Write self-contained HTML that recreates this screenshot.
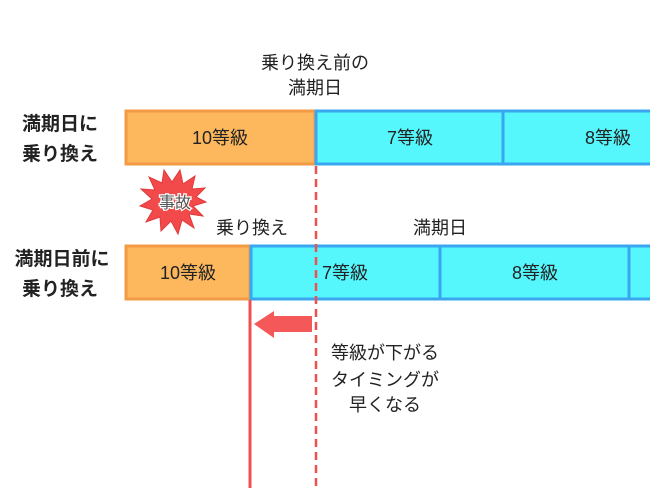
<!DOCTYPE html>
<html><head><meta charset="utf-8"><style>
html,body{margin:0;padding:0;background:#fff;}
body{width:650px;height:488px;overflow:hidden;position:relative;font-family:"Liberation Sans","Noto Sans CJK JP",sans-serif;}
</style></head><body>
<svg width="650" height="488" viewBox="0 0 650 488" xmlns="http://www.w3.org/2000/svg" style="position:absolute;left:0;top:0">
<g font-family="Liberation Sans, Noto Sans CJK JP, sans-serif">
<rect x="126" y="111" width="189" height="53" fill="#fdb75c" stroke="#f39a45" stroke-width="3"/>
<rect x="316" y="111" width="187" height="53" fill="#55f7fd" stroke="#3ba6f0" stroke-width="3"/>
<rect x="503" y="111" width="160" height="53" fill="#55f7fd" stroke="#3ba6f0" stroke-width="3"/>
<rect x="126" y="246" width="124" height="53" fill="#fdb75c" stroke="#f39a45" stroke-width="3"/>
<rect x="251" y="246" width="189" height="53" fill="#55f7fd" stroke="#3ba6f0" stroke-width="3"/>
<rect x="440" y="246" width="189" height="53" fill="#55f7fd" stroke="#3ba6f0" stroke-width="3"/>
<rect x="629" y="246" width="40" height="53" fill="#55f7fd" stroke="#3ba6f0" stroke-width="3"/>
<line x1="316" y1="166" x2="316" y2="488" stroke="#f05050" stroke-width="2.5" stroke-dasharray="8,5"/>
<line x1="250" y1="300" x2="250" y2="488" stroke="#f05050" stroke-width="3"/>
<polygon points="254,324 274,311 274,316 312,316 312,332 274,332 274,338" fill="#f55858"/>
<polygon fill="#f24a4a" stroke="#e03a3a" stroke-width="1" points="
206,202 193,206 203,216 189,214 194,228 182,220 178,234 171,221 161,231 160,217 146,222 153,210 140,206 152,199 141,189 155,190 149,177 162,183 164,170 172,182 180,170 183,184 195,176 192,189 205,188 196,197"/>
<text x="175" y="208" font-size="16" text-anchor="middle" fill="#555" stroke="#fff" stroke-width="2.5" paint-order="stroke">事故</text>
<g font-size="18" fill="#222" text-anchor="middle">
<text x="315" y="69">乗り換え前の</text>
<text x="315" y="94">満期日</text>
<text x="220" y="144">10等級</text>
<text x="410" y="144">7等級</text>
<text x="608" y="144">8等級</text>
<text x="188" y="279">10等級</text>
<text x="345" y="279">7等級</text>
<text x="535" y="279">8等級</text>
<text x="252" y="234">乗り換え</text>
<text x="440" y="234">満期日</text>
<text x="385" y="359">等級が下がる</text>
<text x="385" y="386">タイミングが</text>
<text x="385" y="411">早くなる</text>
</g>
<g font-size="19" font-weight="bold" fill="#222" text-anchor="middle">
<text x="60" y="130">満期日に</text>
<text x="60" y="160">乗り換え</text>
<text x="62" y="265">満期日前に</text>
<text x="60" y="295">乗り換え</text>
</g>
</g>
</svg>
</body></html>
